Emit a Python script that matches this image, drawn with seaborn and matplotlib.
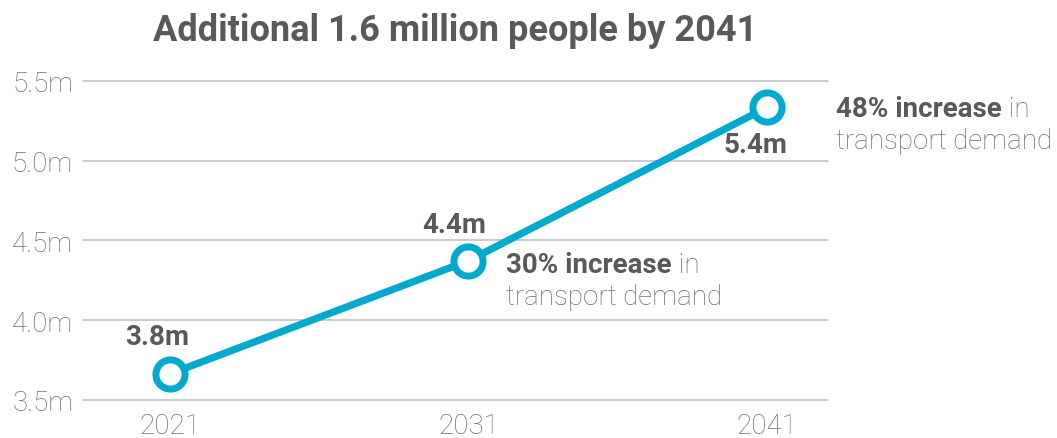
import matplotlib
matplotlib.use('Agg')
import matplotlib.pyplot as plt
import seaborn as sns
import pandas as pd

# Données
years = [2021, 2031, 2041]
population = [3.663, 4.372, 5.333]
point_labels = ['3.8m', '4.4m', '5.4m']
y_ticks = [3.5, 4.0, 4.5, 5.0, 5.5]
y_tick_labels = ['3.5m', '4.0m', '4.5m', '5.0m', '5.5m']
title = 'Additional 1.6 million people by 2041'
notes = {2031: ('30% increase', ' in', 'transport demand'),
         2041: ('48% increase', ' in', 'transport demand')}

df = pd.DataFrame({'year': years, 'pop': population})

sns.set_style('white')
plt.rcParams['font.family'] = ['Roboto', 'Liberation Sans', 'DejaVu Sans']

BLUE = '#00A9CE'
DARK = '#58595B'
LIGHT = '#6D6E71'
GRID = '#BCBEC0'

fig = plt.figure(figsize=(10.57, 4.39), dpi=100)
ax = fig.add_axes([0.0785, 0.0866, 0.7048, 0.7273])

sns.lineplot(data=df, x='year', y='pop', ax=ax, color=BLUE, linewidth=5.2,
             marker='o', markersize=21, markerfacecolor='white',
             markeredgecolor=BLUE, markeredgewidth=5, zorder=3)

ax.set_xlim(2018.09, 2043.04)
ax.set_ylim(3.5, 5.5)
ax.set_xticks(years)
ax.set_xticklabels([str(y) for y in years], fontweight='light')
ax.set_yticks(y_ticks)
ax.set_yticklabels(y_tick_labels, fontweight='light')
ax.set_xlabel('')
ax.set_ylabel('')
ax.tick_params(axis='both', length=0, labelsize=20, labelcolor=LIGHT)
ax.tick_params(axis='y', pad=7)
ax.tick_params(axis='x', pad=9)
for s in ax.spines.values():
    s.set_visible(False)
ax.grid(True, axis='y', color=GRID, linewidth=1.1)
for gl in ax.get_ygridlines():
    gl.set_clip_on(False)

ax.set_title(title, fontsize=26, fontweight='bold', color=DARK, pad=29)

# Étiquettes des valeurs
offsets = [(-9, 27), (-10, 26), (-8, -27)]
for x, y, lab, off in zip(years, population, point_labels, offsets):
    ax.annotate(lab, xy=(x, y), xytext=off, textcoords='offset points',
                ha='center', va='center', fontsize=20, fontweight='bold', color=DARK)

# Notes sur la demande de transport
note_offsets = {2031: (27, -3), 2041: (50, -1)}
for x, y in zip(years, population):
    if x not in notes:
        continue
    bold, tail, line2 = notes[x]
    dx, dy = note_offsets[x]
    t1 = ax.annotate(bold, xy=(x, y), xytext=(dx, dy), textcoords='offset points',
                     ha='left', va='center', fontsize=20, fontweight='bold',
                     color=DARK, annotation_clip=False)
    ax.annotate(tail, xy=(1, 0), xycoords=t1, ha='left', va='bottom',
                fontsize=20, fontweight='light', color=LIGHT, annotation_clip=False)
    ax.annotate(line2, xy=(x, y), xytext=(dx, dy - 23), textcoords='offset points',
                ha='left', va='center', fontsize=20, fontweight='light',
                color=LIGHT, annotation_clip=False)

fig.savefig('out.png', dpi=100)
